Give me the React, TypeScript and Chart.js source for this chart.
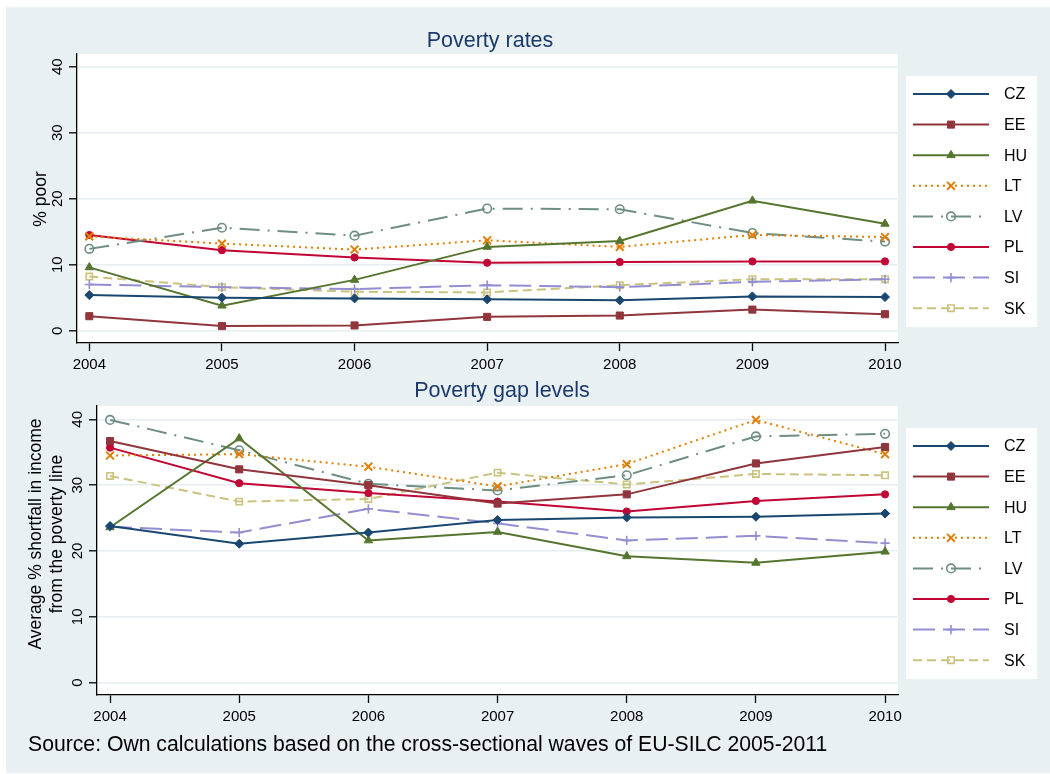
import React, { useEffect, useRef } from 'react';
import { Chart, registerables } from 'chart.js';
import { drawPoint } from 'chart.js/helpers';

Chart.register(...registerables);

const FONT = '"Liberation Sans", Arial, Helvetica, sans-serif';

// x-axis categories (survey reference years)
const years = [2004, 2005, 2006, 2007, 2008, 2009, 2010];
const countries = ['CZ', 'EE', 'HU', 'LT', 'LV', 'PL', 'SI', 'SK'];
const yTickValues = [0, 10, 20, 30, 40];

// Poverty rates, % poor
const rateCZ = [5.4, 5.0, 4.9, 4.75, 4.6, 5.2, 5.1];
const rateEE = [2.2, 0.7, 0.8, 2.1, 2.3, 3.2, 2.5];
const rateHU = [9.6, 3.8, 7.7, 12.7, 13.6, 19.7, 16.2];
const rateLT = [14.3, 13.2, 12.3, 13.7, 12.7, 14.5, 14.2];
const rateLV = [12.4, 15.6, 14.4, 18.5, 18.4, 14.8, 13.5];
const ratePL = [14.5, 12.2, 11.1, 10.3, 10.4, 10.5, 10.5];
const rateSI = [7.0, 6.6, 6.3, 6.9, 6.6, 7.4, 7.8];
const rateSK = [8.2, 6.6, 5.9, 5.8, 6.9, 7.8, 7.8];

// Poverty gap, average % shortfall from the poverty line
const gapCZ = [23.8, 21.1, 22.8, 24.7, 25.1, 25.2, 25.7];
const gapEE = [36.7, 32.4, 30.0, 27.2, 28.6, 33.3, 35.8];
const gapHU = [23.6, 37.1, 21.6, 22.9, 19.2, 18.2, 19.9];
const gapLT = [34.5, 34.7, 32.8, 29.8, 33.2, 39.9, 34.7];
const gapLV = [39.9, 35.3, 30.2, 29.2, 31.5, 37.4, 37.8];
const gapPL = [35.7, 30.3, 28.8, 27.5, 26.0, 27.6, 28.6];
const gapSI = [23.7, 22.8, 26.4, 24.2, 21.6, 22.3, 21.2];
const gapSK = [31.4, 27.5, 27.9, 31.9, 30.1, 31.7, 31.5];

const rateSeries = [rateCZ, rateEE, rateHU, rateLT, rateLV, ratePL, rateSI, rateSK];
const gapSeries = [gapCZ, gapEE, gapHU, gapLT, gapLV, gapPL, gapSI, gapSK];

// per-country line and marker styling (s2color palette)
const seriesStyles = [
  { color: '#1a476f', dash: [] as number[], pointStyle: 'rectRot', radius: 4.5, filled: true, pbw: 1 },
  { color: '#90353b', dash: [] as number[], pointStyle: 'rect', radius: 5, filled: true, pbw: 1 },
  { color: '#55752f', dash: [] as number[], pointStyle: 'triangle', radius: 4.8, filled: true, pbw: 1 },
  { color: '#e37e00', dash: [2, 4], pointStyle: 'crossRot', radius: 5.5, filled: false, pbw: 2 },
  { color: '#6e8e84', dash: [20, 8, 2, 8], pointStyle: 'circle', radius: 4.3, filled: false, pbw: 1.6 },
  { color: '#c10534', dash: [] as number[], pointStyle: 'circle', radius: 3.6, filled: true, pbw: 1 },
  { color: '#938dd2', dash: [22, 8], pointStyle: 'cross', radius: 4.6, filled: false, pbw: 1.6 },
  { color: '#cac27e', dash: [9, 5], pointStyle: 'rect', radius: 4.5, filled: false, pbw: 1.6 },
];

const BG = '#e9f0f2';
const GRID = '#e6eef1';

type Geo = {
  canvasTop: number;
  canvasH: number;
  plotLeft: number;
  plotRight: number;
  plotTop: number;
  plotBottom: number;
  xMin: number;
  xMax: number;
  yMin: number;
  yMax: number;
  legend: { x: number; y: number; w: number; h: number; firstY: number; step: number };
};

const plotFill = {
  id: 'plotFill',
  beforeDraw(chart: any) {
    const { ctx, chartArea } = chart;
    ctx.save();
    ctx.fillStyle = '#ffffff';
    ctx.fillRect(chartArea.left, chartArea.top, chartArea.right - chartArea.left, chartArea.bottom - chartArea.top);
    ctx.restore();
  },
};

// vertical (rotated) y-axis tick labels
const yTickText = {
  id: 'yTickText',
  afterDraw(chart: any, _args: any, opts: any) {
    const scale = chart.scales.y;
    const ctx = chart.ctx;
    ctx.save();
    ctx.fillStyle = '#000';
    ctx.font = `15px ${FONT}`;
    ctx.textAlign = 'center';
    ctx.textBaseline = 'alphabetic';
    for (const t of scale.ticks) {
      const py = scale.getPixelForValue(t.value);
      ctx.save();
      ctx.translate(chart.chartArea.left - opts.offset, py);
      ctx.rotate(-Math.PI / 2);
      ctx.fillText(String(t.value), 0, 0);
      ctx.restore();
    }
    ctx.restore();
  },
};

// legend box with line samples and markers taken from the datasets
const countryLegend = {
  id: 'countryLegend',
  afterDraw(chart: any, _args: any, opts: any) {
    const ctx = chart.ctx;
    ctx.save();
    ctx.fillStyle = '#ffffff';
    ctx.fillRect(opts.x, opts.y, opts.w, opts.h);
    chart.data.datasets.forEach((ds: any, i: number) => {
      const y = opts.firstY + i * opts.step;
      const x0 = opts.x + 7;
      const x1 = opts.x + 83;
      const xm = (x0 + x1) / 2;
      ctx.save();
      ctx.strokeStyle = ds.borderColor;
      ctx.lineWidth = ds.borderWidth;
      ctx.setLineDash(ds.borderDash || []);
      ctx.beginPath();
      ctx.moveTo(x0, y);
      ctx.lineTo(x1, y);
      ctx.stroke();
      ctx.setLineDash([]);
      ctx.fillStyle = ds.pointBackgroundColor;
      ctx.strokeStyle = ds.pointBorderColor;
      ctx.lineWidth = ds.pointBorderWidth;
      drawPoint(ctx, { pointStyle: ds.pointStyle, radius: ds.pointRadius, rotation: 0, borderWidth: ds.pointBorderWidth } as any, xm, y);
      ctx.restore();
      ctx.fillStyle = '#000';
      ctx.font = `16px ${FONT}`;
      ctx.textAlign = 'left';
      ctx.textBaseline = 'middle';
      ctx.fillText(ds.label, opts.x + 98, y + 1);
    });
    ctx.restore();
  },
};

function buildConfig(valueSets: number[][], geo: Geo): any {
  const datasets = countries.map((code, i) => {
    const s = seriesStyles[i];
    return {
      label: code,
      data: years.map((yr, j) => ({ x: yr, y: valueSets[i][j] })),
      borderColor: s.color,
      borderWidth: 2,
      borderDash: s.dash,
      borderCapStyle: 'butt',
      pointStyle: s.pointStyle,
      pointRadius: s.radius,
      pointHoverRadius: s.radius,
      pointBorderWidth: s.pbw,
      pointBorderColor: s.color,
      pointBackgroundColor: s.filled ? s.color : 'rgba(0,0,0,0)',
      tension: 0,
      fill: false,
    };
  });
  return {
    type: 'line',
    data: { datasets },
    plugins: [plotFill, yTickText, countryLegend],
    options: {
      animation: false,
      responsive: false,
      maintainAspectRatio: false,
      events: [],
      layout: { padding: { top: geo.plotTop, right: 1050 - geo.plotRight, left: 0, bottom: 0 } },
      plugins: {
        legend: { display: false },
        title: { display: false },
        tooltip: { enabled: false },
        yTickText: { offset: 15 },
        countryLegend: geo.legend,
      },
      scales: {
        x: {
          type: 'linear',
          min: geo.xMin,
          max: geo.xMax,
          afterBuildTicks: (s: any) => {
            s.ticks = years.map((v) => ({ value: v }));
          },
          afterFit: (s: any) => {
            s.height = geo.canvasH - geo.plotBottom;
          },
          grid: { drawOnChartArea: false, drawTicks: true, tickLength: 8, tickColor: '#000', tickWidth: 1.3 },
          border: { display: true, color: '#000', width: 1.3 },
          ticks: {
            color: '#000',
            font: { family: FONT, size: 15 },
            padding: 5,
            maxRotation: 0,
            minRotation: 0,
            autoSkip: false,
            callback: (v: any) => String(v),
          },
        },
        y: {
          type: 'linear',
          min: geo.yMin,
          max: geo.yMax,
          afterBuildTicks: (s: any) => {
            s.ticks = yTickValues.map((v) => ({ value: v }));
          },
          afterFit: (s: any) => {
            s.width = geo.plotLeft;
          },
          grid: { color: GRID, lineWidth: 1.6, drawTicks: true, tickLength: 8, tickColor: '#000', tickWidth: 1.3 },
          border: { display: true, color: '#000', width: 1.3 },
          ticks: { display: false },
        },
      },
    },
  };
}

const topGeo: Geo = {
  canvasTop: 0,
  canvasH: 380,
  plotLeft: 77,
  plotRight: 898,
  plotTop: 54,
  plotBottom: 343,
  xMin: 2003.907,
  xMax: 2010.098,
  yMin: -1.86,
  yMax: 41.92,
  legend: { x: 906, y: 76, w: 131, h: 251, firstY: 94, step: 30.6 },
};

const bottomGeo: Geo = {
  canvasTop: 372,
  canvasH: 402,
  plotLeft: 97,
  plotRight: 898,
  plotTop: 406 - 372,
  plotBottom: 695 - 372,
  xMin: 2003.899,
  xMax: 2010.1,
  yMin: -1.87,
  yMax: 42.02,
  legend: { x: 906, y: 428 - 372, w: 131, h: 251, firstY: 446 - 372, step: 30.6 },
};

function LinePanel({ values, geo }: { values: number[][]; geo: Geo }) {
  const ref = useRef<HTMLCanvasElement | null>(null);
  useEffect(() => {
    if (!ref.current) return;
    const chart = new Chart(ref.current, buildConfig(values, geo));
    return () => chart.destroy();
  }, [values, geo]);
  return (
    <canvas
      ref={ref}
      width={1050}
      height={geo.canvasH}
      style={{ position: 'absolute', left: 0, top: geo.canvasTop, width: 1050, height: geo.canvasH }}
    />
  );
}

const textBase: React.CSSProperties = {
  position: 'absolute',
  fontFamily: FONT,
  whiteSpace: 'nowrap',
  margin: 0,
};

export default function App() {
  return (
    <div style={{ position: 'absolute', left: 0, top: 0, width: 1050, height: 774, background: '#ffffff', overflow: 'hidden' }}>
      <div style={{ position: 'absolute', left: 6, top: 7, width: 1044, height: 766, background: BG }} />
      <LinePanel values={rateSeries} geo={topGeo} />
      <LinePanel values={gapSeries} geo={bottomGeo} />
      <div style={{ ...textBase, left: 490, top: 28, fontSize: 21.5, lineHeight: '24px', color: '#1b3a6b', transform: 'translateX(-50%)' }}>
        Poverty rates
      </div>
      <div style={{ ...textBase, left: 502, top: 378, fontSize: 21.5, lineHeight: '24px', color: '#1b3a6b', transform: 'translateX(-50%)' }}>
        Poverty gap levels
      </div>
      <div
        style={{
          ...textBase,
          left: 40,
          top: 199,
          fontSize: 17.5,
          lineHeight: '21px',
          color: '#000',
          transform: 'translate(-50%, -50%) rotate(-90deg)',
        }}
      >
        % poor
      </div>
      <div
        style={{
          ...textBase,
          left: 45.5,
          top: 534,
          fontSize: 17.5,
          lineHeight: '21px',
          color: '#000',
          textAlign: 'center',
          transform: 'translate(-50%, -50%) rotate(-90deg)',
        }}
      >
        Average % shortfall in income
        <br />
        from the poverty line
      </div>
      <div style={{ ...textBase, left: 28, top: 731, fontSize: 21.2, lineHeight: '25px', color: '#000' }}>
        Source: Own calculations based on the cross-sectional waves of EU-SILC 2005-2011
      </div>
    </div>
  );
}
